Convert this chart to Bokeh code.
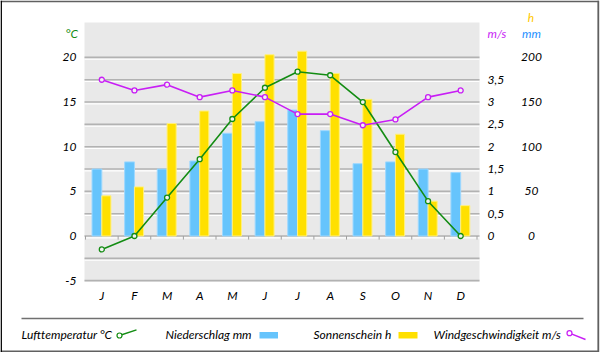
import numpy as np
from bokeh.plotting import figure
from bokeh.models import Range1d, ColumnDataSource
from bokeh.core.properties import value
from bokeh.transform import dodge
from bokeh.embed import file_html
from bokeh.resources import INLINE

# ---------------- data ----------------
months = ["J", "F", "M", "A", "M", "J", "J", "A", "S", "O", "N", "D"]
temperature = [-1.5, 0.0, 4.3, 8.6, 13.1, 16.6, 18.4, 18.0, 15.0, 9.4, 3.9, 0.0]      # °C
precipitation = [75, 83, 75, 84, 115, 128, 141, 118, 81, 83, 75, 71]                  # mm
sunshine = [45, 55, 126, 140, 182, 203, 207, 182, 153, 114, 39, 34]                   # h
wind = [3.50, 3.26, 3.39, 3.11, 3.26, 3.11, 2.73, 2.73, 2.48, 2.61, 3.11, 3.26]       # m/s

temp_ticks = [-5, 0, 5, 10, 15, 20]
temp_labels = ["-5", "0", "5", "10", "15", "20"]
grid_ticks = [-5, -2.5, 0, 2.5, 5, 7.5, 10, 12.5, 15, 17.5, 20]
wind_ticks = [0, 0.5, 1, 1.5, 2, 2.5, 3, 3.5]
wind_labels = ["0", "0,5", "1", "1,5", "2", "2,5", "3", "3,5"]
mm_ticks = [0, 50, 100, 150, 200]
mm_labels = ["0", "50", "100", "150", "200"]

series_names = ["Lufttemperatur °C", "Niederschlag mm", "Sonnenschein h", "Windgeschwindigkeit m/s"]

# ---------------- geometry (whole canvas is the frame) ----------------
W, H = 600, 352
PX_PER_CAT = 32.625          # px per month
CAT0_PX = 85.0               # canvas x of category boundary 0
PX_PER_DEG = 8.93            # px per °C
ZERO_PY = 235.5              # canvas y of 0 °C
MS = 5.0                     # °C per m/s
MM = 0.1                     # °C per mm

XA = -CAT0_PX / PX_PER_CAT
XB = XA + W / PX_PER_CAT
YB = ZERO_PY / PX_PER_DEG
YA = YB - H / PX_PER_DEG


def dx(px):
    return XA + px / PX_PER_CAT


def dy(py):
    return YB - py / PX_PER_DEG


# chart (grey) area in data units
CX0, CX1 = dx(84), dx(479)
CY0, CY1 = -5.1, dy(22)

FONT = value("Lato")
TEMP_C = "#138C13"
WIND_C = "#C81EF5"
BLUE = "#66C4FC"
YELLOW = "#FFE000"

x = np.arange(len(months)) + 0.5
src = ColumnDataSource(dict(x=x, temp=temperature, rain=precipitation,
                            sun=sunshine, wind=wind))

p = figure(width=W, height=H, output_backend="svg", toolbar_location=None,
           x_range=Range1d(XA, XB), y_range=Range1d(YA, YB),
           x_axis_location=None, y_axis_location=None, min_border=0)
p.extra_y_ranges = {"ms": Range1d(YA / MS, YB / MS), "mm": Range1d(YA / MM, YB / MM)}
p.background_fill_color = "white"
p.border_fill_color = "white"
p.outline_line_color = None
p.grid.visible = False

# grey chart area
p.quad(left=CX0, right=CX1, bottom=CY0, top=CY1, fill_color="#E9E9E9", line_color=None)

# grid lines (every 2.5 °C) with a light highlight below
n = len(grid_ticks)
p.segment(x0=[CX0] * n, x1=[CX1] * n, y0=[t - 0.2 for t in grid_ticks],
          y1=[t - 0.2 for t in grid_ticks], line_color="white", line_width=1.2)
p.segment(x0=[CX0] * n, x1=[CX1] * n, y0=grid_ticks, y1=grid_ticks,
          line_color="#B2B2B2", line_width=1.6)

# category tick marks on the zero line
bounds = np.arange(len(months) + 1)
p.segment(x0=bounds, y0=0, x1=bounds, y1=-0.4, line_color="#A0A0A0", line_width=1)

# bars
p.vbar(x=dodge("x", -0.15, range=p.x_range), top="rain", width=0.30, bottom=0,
       y_range_name="mm", source=src, fill_color=BLUE, line_color="#9DD8FF", line_width=1)
p.vbar(x=dodge("x", 0.14, range=p.x_range), top="sun", width=0.28, bottom=0,
       y_range_name="mm", source=src, fill_color=YELLOW, line_color="#FFF080", line_width=1)

# lines
p.line("x", "temp", source=src, line_color=TEMP_C, line_width=1.6)
p.scatter("x", "temp", source=src, size=5, marker="circle", fill_color="#F2F2F2",
          line_color=TEMP_C, line_width=1.3)
p.line("x", "wind", source=src, y_range_name="ms", line_color=WIND_C, line_width=1.6)
p.scatter("x", "wind", source=src, y_range_name="ms", size=5, marker="circle",
          fill_color="#F2F2F2", line_color=WIND_C, line_width=1.3)

TXT = dict(text_font=FONT, text_font_style="italic", text_font_size="12px",
           text_baseline="middle")

# axis tick labels
p.text(x=[dx(76)] * len(temp_ticks), y=temp_ticks, text=temp_labels,
       text_align="right", text_color="black", **TXT)
p.text(x=[dx(487)] * len(wind_ticks), y=wind_ticks, text=wind_labels, y_range_name="ms",
       text_align="left", text_color="black", **TXT)
p.text(x=[dx(531)] * len(mm_ticks), y=mm_ticks, text=mm_labels, y_range_name="mm",
       text_align="center", text_color="black", **TXT)
p.text(x=x, y=[dy(295)] * len(months), text=months, text_align="center",
       text_color="black", **TXT)

# unit labels
p.text(x=[dx(65)], y=[dy(33)], text=["°C"], text_align="left", text_color=TEMP_C, **TXT)
p.text(x=[dx(487)], y=[dy(33)], text=["m/s"], text_align="left", text_color=WIND_C, **TXT)
p.text(x=[dx(531)], y=[dy(33)], text=["mm"], text_align="center", text_color="#1E90FF", **TXT)
p.text(x=[dx(530.5)], y=[dy(17)], text=["h"], text_align="center", text_color="#FFC800", **TXT)

# legend
p.segment(x0=[dx(21)], x1=[dx(583)], y0=[dy(318)], y1=[dy(318)], line_color="#707070", line_width=1.6)
p.text(x=[dx(21), dx(165), dx(313), dx(433)], y=[dy(333.5)] * 4, text=series_names,
       text_align="left", text_color="black", **TXT)
p.line(x=[dx(119), dx(136)], y=[dy(335), dy(329.3)], line_color=TEMP_C, line_width=1.4)
p.scatter(x=[dx(119)], y=[dy(335)], size=5, marker="circle", fill_color="white",
          line_color=TEMP_C, line_width=1.2)
p.quad(left=[dx(259)], right=[dx(277.5)], top=[dy(331.5)], bottom=[dy(338)],
       fill_color=BLUE, line_color=None)
p.quad(left=[dx(398)], right=[dx(417)], top=[dy(331.5)], bottom=[dy(338)],
       fill_color=YELLOW, line_color=None)
p.line(x=[dx(569), dx(585)], y=[dy(332.7), dy(339)], line_color=WIND_C, line_width=1.4)
p.scatter(x=[dx(569)], y=[dy(332.7)], size=5, marker="circle", fill_color="white",
          line_color=WIND_C, line_width=1.2)

# outer frame
p.segment(x0=[dx(0), dx(597.8), dx(0)], x1=[dx(598.5), dx(597.8), dx(598.5)],
          y0=[dy(0.8), dy(0), dy(350.8)], y1=[dy(0.8), dy(351.5), dy(350.8)],
          line_color="#606060", line_width=1.8)
p.segment(x0=[dx(0.7)], x1=[dx(0.7)], y0=[dy(0)], y1=[dy(352)], line_color="black", line_width=1.5)

open("out.html", "w").write(file_html(p, INLINE))
